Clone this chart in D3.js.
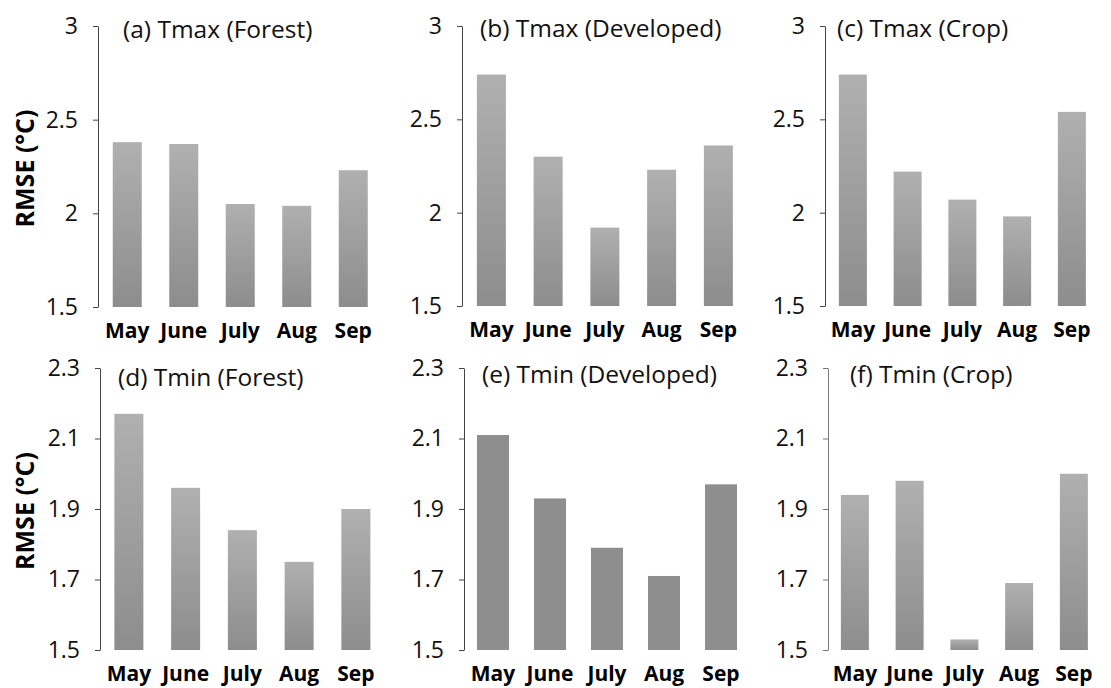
<!DOCTYPE html>
<html>
<head>
<meta charset="utf-8">
<script src="https://cdn.jsdelivr.net/npm/d3@7"></script>
<style>
  body { margin: 0; background: #fff; }
  svg { display: block; font-family: "Open Sans", sans-serif; }
</style>
</head>
<body>
<svg id="chart" width="1111" height="688"></svg>
<script>
// data
var months = ["May", "June", "July", "Aug", "Sep"];
var tmaxForest = [2.38, 2.37, 2.05, 2.04, 2.23];
var tmaxDeveloped = [2.74, 2.30, 1.92, 2.23, 2.36];
var tmaxCrop = [2.74, 2.22, 2.07, 1.98, 2.54];
var tminForest = [2.17, 1.96, 1.84, 1.75, 1.90];
var tminDeveloped = [2.11, 1.93, 1.79, 1.71, 1.97];
var tminCrop = [1.94, 1.98, 1.53, 1.69, 2.00];
var tmaxTicks = [1.5, 2, 2.5, 3];
var tminTicks = [1.5, 1.7, 1.9, 2.1, 2.3];
var titles = ["(a) Tmax (Forest)", "(b) Tmax (Developed)", "(c) Tmax (Crop)",
              "(d) Tmin (Forest)", "(e) Tmin (Developed)", "(f) Tmin (Crop)"];

// panel layout (pixels)
var panels = [
  {values: tmaxForest,    ticks: tmaxTicks, ax: 98,  x0: 99,  step: 56.5, bw: 29, top: 26,  bottom: 307, tx: 123, ty: 38,  grad: true,  ylab: true},
  {values: tmaxDeveloped, ticks: tmaxTicks, ax: 462, x0: 463, step: 56.75, bw: 29, top: 26, bottom: 306, tx: 480, ty: 37,  grad: true,  ylab: false},
  {values: tmaxCrop,      ticks: tmaxTicks, ax: 825, x0: 825.5, step: 54.75, bw: 28, top: 26, bottom: 306, tx: 837, ty: 37, grad: true, ylab: false},
  {values: tminForest,    ticks: tminTicks, ax: 100, x0: 100.5, step: 56.75, bw: 29, top: 368, bottom: 650, tx: 118, ty: 386, grad: true, ylab: true},
  {values: tminDeveloped, ticks: tminTicks, ax: 464, x0: 464.5, step: 57, bw: 32, top: 368, bottom: 650, tx: 482, ty: 383, grad: false, ylab: false},
  {values: tminCrop,      ticks: tminTicks, ax: 828, x0: 827.5, step: 54.75, bw: 28, top: 368, bottom: 650, tx: 850, ty: 383, grad: true, ylab: false}
];

var svg = d3.select("#chart");
var defs = svg.append("defs");

var grad = defs.append("linearGradient")
  .attr("id", "barGrad")
  .attr("x1", 0).attr("y1", 0).attr("x2", 0).attr("y2", 1);
grad.append("stop").attr("offset", "0%").attr("stop-color", "#b0b0b0");
grad.append("stop").attr("offset", "100%").attr("stop-color", "#8d8d8d");

defs.append("filter")
  .attr("id", "soft")
  .attr("x", "-20%").attr("y", "-5%").attr("width", "140%").attr("height", "110%")
  .append("feGaussianBlur").attr("stdDeviation", 0.7);

panels.forEach(function(p, i) {
  var g = svg.append("g");

  var y = d3.scaleLinear()
    .domain(d3.extent(p.ticks))
    .range([p.bottom, p.top]);

  var pad = 1 - p.bw / p.step;
  var x = d3.scaleBand()
    .domain(months)
    .range([p.x0, p.x0 + p.step * months.length])
    .paddingInner(pad)
    .paddingOuter(pad / 2);

  // bars
  g.selectAll("rect.bar")
    .data(p.values)
    .enter()
    .append("rect")
    .attr("class", "bar")
    .attr("x", function(d, j) { return x(months[j]); })
    .attr("width", x.bandwidth())
    .attr("y", function(d) { return y(d); })
    .attr("height", function(d) { return p.bottom - y(d); })
    .attr("fill", p.grad ? "url(#barGrad)" : "#8e8e8e")
    .attr("filter", p.grad ? "url(#soft)" : null);

  // y axis
  var axis = d3.axisLeft(y)
    .tickValues(p.ticks)
    .tickFormat(d3.format("~g"))
    .tickSize(5)
    .tickSizeOuter(0)
    .tickPadding(15);

  var ag = g.append("g")
    .attr("transform", "translate(" + p.ax + ",0)")
    .call(axis);
  ag.select(".domain").attr("stroke", i == 5 ? "#777" : "#444");
  ag.selectAll(".tick line").attr("stroke", i == 5 ? "#777" : "#444");
  ag.selectAll(".tick text")
    .attr("fill", "#111")
    .style("font-size", "23px")
    .style("font-family", "'Open Sans', sans-serif");

  // month labels
  g.selectAll("text.month")
    .data(months)
    .enter()
    .append("text")
    .attr("class", "month")
    .attr("x", function(d) { return x(d) + x.bandwidth() / 2; })
    .attr("y", p.bottom + 31)
    .attr("text-anchor", "middle")
    .style("font-size", "21px")
    .style("font-weight", "bold")
    .attr("fill", "#000")
    .text(function(d) { return d; });

  // panel title
  g.append("text")
    .attr("x", p.tx)
    .attr("y", p.ty)
    .style("font-size", "24.5px")
    .attr("fill", "#111")
    .text(titles[i]);

  if (p.ylab) {
    g.append("text")
      .attr("transform", "translate(34," + ((p.top + p.bottom) / 2 + 2) + ") rotate(-90)")
      .attr("text-anchor", "middle")
      .style("font-size", "25px")
      .style("font-weight", "bold")
      .attr("fill", "#000")
      .text("RMSE (°C)");
  }
});
</script>
</body>
</html>
